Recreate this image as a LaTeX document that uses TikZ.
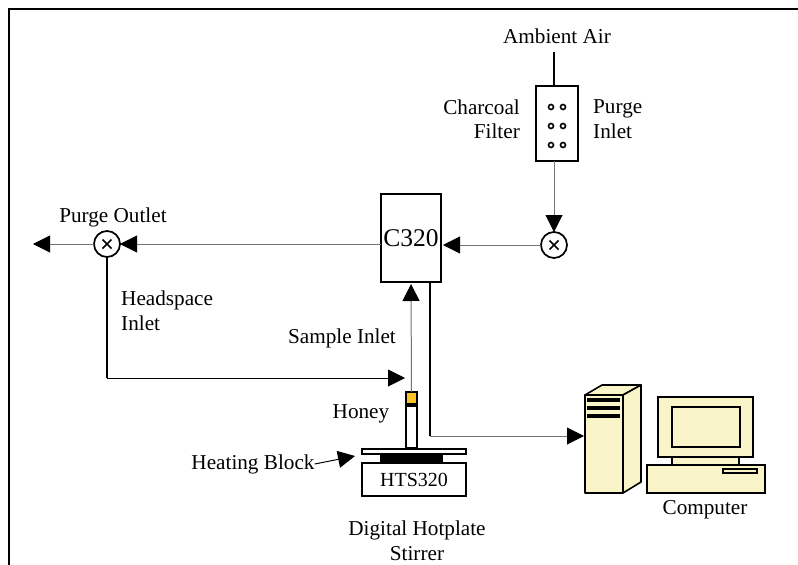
\documentclass[tikz,border=0pt]{standalone}
\usepackage{fontspec}
\setmainfont{Liberation Serif}
\usetikzlibrary{arrows.meta,shapes.misc}

\tikzset{
    lbl/.style={inner sep=0pt, font=\fontsize{21.2}{24.5}\selectfont},
    box/.style={draw, line width=1.7pt, fill=white, inner sep=0pt, outer sep=0pt},
    unit/.style={draw, line width=1.6pt, fill=cream, inner sep=0pt, outer sep=0pt},
    valve/.style={circle, draw, line width=1.7pt, fill=white, minimum size=26pt, inner sep=0pt, outer sep=0pt},
    xmark/.style={cross out, draw, line width=1.7pt, minimum size=9pt, inner sep=0pt, outer sep=0pt},
    hole/.style={circle, draw, line width=1.6pt, minimum size=5pt, inner sep=0pt},
    tube/.style={draw=black!55, line width=1pt},
    wire/.style={line width=1pt},
    stem/.style={line width=1.7pt},
    tip/.style={-{Triangle[length=17pt,width=17pt,color=black]}},
}
\definecolor{cream}{RGB}{250,245,200}
\definecolor{honey}{RGB}{250,195,40}

\begin{document}
\begin{tikzpicture}[x=1pt, y=-1pt]
    \useasboundingbox (0,0) rectangle (798,565);

    % Outer frame
    \coordinate (fa) at (9,565);
    \coordinate (fb) at (9,9);
    \coordinate (fc) at (798,9);
    \draw[line width=2pt] (fa) -- (fb) -- (fc);

    % Charcoal filter
    \node (filter) at (557,123.5) [box, minimum width=42pt, minimum height=75pt] {};
    \coordinate (airin) at (554,52);
    \coordinate (filtertop) at (554,86);
    \coordinate (filterbot) at (554,161);
    \draw[stem] (airin) -- (filtertop);
    \foreach \yy [count=\i] in {107,126,145} {
        \node (holeL\i) at (551,\yy) [hole] {};
        \node (holeR\i) at (563,\yy) [hole] {};
    }

    % Valves
    \node (valvein) at (554,245) [valve] {};
    \node (xin) at (554,245) [xmark] {};
    \node (valveout) at (107,244) [valve] {};
    \node (xout) at (107,244) [xmark] {};

    % C320
    \node (cthree) at (411,238) [box, minimum width=60pt, minimum height=88pt,
        font=\fontsize{25.5}{28}\selectfont] {C320};

    % Purge line
    \draw[tube, tip] (filterbot) -- (valvein.north);
    \draw[tube, tip, shorten >=2pt] (valvein.west) -- (cthree.east |- valvein);
    \draw[tube, tip] (cthree.west |- valveout) -- (valveout.east);
    \coordinate (outend) at (33,244);
    \draw[tube, tip] (valveout.west) -- (outend);

    % Headspace line
    \coordinate (hscorner) at (107,378);
    \coordinate (hstip) at (405,378);
    \draw[stem] (valveout.south) -- (hscorner);
    \draw[wire, tip] (hscorner) -- (hstip);

    % Honey vial
    \node (vial) at (411.5,420) [box, minimum width=11pt, minimum height=56pt] {};
    \node (cap) at (411.5,398) [box, fill=honey, minimum width=11pt, minimum height=12pt] {};
    \node (band) at (411.5,405) [fill=black, inner sep=0pt, minimum width=11pt, minimum height=3pt] {};
    \coordinate (sampletip) at (411,284);
    \draw[tube, tip] (cap.north) -- (sampletip);

    % Hotplate
    \node (plate) at (414,451.5) [box, minimum width=104pt, minimum height=5pt] {};
    \node (block) at (411.5,458.5) [fill=black, inner sep=0pt, minimum width=63pt, minimum height=9pt] {};
    \node (hts) at (414,479.5) [box, minimum width=104pt, minimum height=33pt,
        font=\fontsize{20}{24}\selectfont] {\raisebox{-2pt}{HTS320}};

    % Signal line to computer
    \coordinate (sigtop) at (430,282);
    \coordinate (sigcorner) at (430,436);
    \draw[stem] (sigtop) -- (sigcorner);
    \draw[tube, tip] (sigcorner) -- (584,436);

    % Tower
    \coordinate (ta) at (585,395);
    \coordinate (tb) at (602,385);
    \coordinate (tc) at (641,385);
    \coordinate (td) at (623,395);
    \coordinate (te) at (641,482);
    \coordinate (tf) at (623,493);
    \coordinate (tg) at (585,493);
    \draw[unit, line join=round] (ta) -- (tb) -- (tc) -- (td) -- cycle;
    \draw[unit, line join=round] (td) -- (tc) -- (te) -- (tf) -- cycle;
    \draw[unit, line join=round] (ta) -- (td) -- (tf) -- (tg) -- cycle;
    \foreach \yy in {400,408,416}
        \fill (587,\yy-2) rectangle (620,\yy+2);

    % Monitor and desktop
    \node (neck) at (705.5,461) [unit, minimum width=67pt, minimum height=8pt] {};
    \node (monitor) at (705.5,427) [unit, minimum width=95pt, minimum height=60pt] {};
    \node (screen) at (706,427) [unit, minimum width=68pt, minimum height=40pt] {};
    \node (desk) at (706,479) [unit, minimum width=118pt, minimum height=28pt] {};
    \node (drive) at (740,471) [box, line width=1.4pt, fill=cream, minimum width=34pt, minimum height=4pt] {};

    % Labels
    \node (air) at (557,36) [lbl] {Ambient Air};
    \node (charcoal) at (520,119) [lbl, anchor=east, align=right] {Charcoal\\Filter};
    \node (purgein) at (593,119) [lbl, anchor=west, align=left] {Purge\\Inlet};
    \node (purgeout) at (113,217) [lbl] {Purge Outlet};
    \node (headspace) at (121,310.5) [lbl, anchor=west, align=left] {Headspace\\Inlet};
    \node (sample) at (342,338) [lbl] {Sample Inlet};
    \node (honeylbl) at (361,414) [lbl] {Honey};
    \node (heating) at (253,464) [lbl] {Heating Block};
    \node (computer) at (705,510) [lbl] {Computer};
    \node (digital) at (417,540.5) [lbl, align=center] {Digital Hotplate\\Stirrer};

    \coordinate (heatend) at (355,456);
    \draw[wire, tip] (heating.east) -- (heatend);
\end{tikzpicture}
\end{document}
